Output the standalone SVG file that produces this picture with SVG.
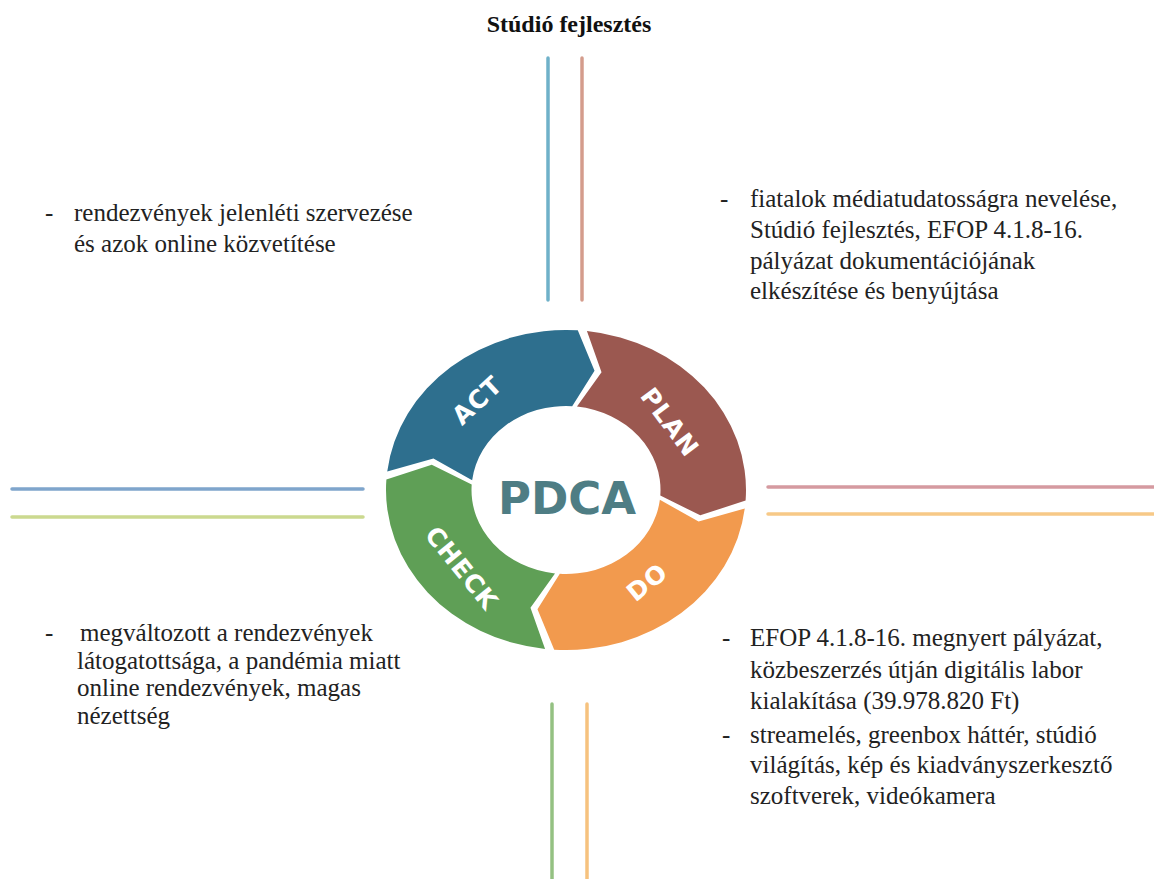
<svg xmlns="http://www.w3.org/2000/svg" width="1154" height="879" viewBox="0 0 1154 879">
<defs>
<style>
.t{font-family:"Liberation Serif","Times New Roman",serif;font-size:25px;fill:#222}
.ttl{font-family:"Liberation Serif","Times New Roman",serif;font-size:24px;font-weight:bold;fill:#111}
.lbl{font-family:"DejaVu Sans",Verdana,sans-serif;font-size:25px;font-weight:bold;fill:#fff;letter-spacing:1px}
.ln{stroke-width:3.5;fill:none;stroke-linecap:round}
</style>
<path id="seg" d="M -158.91,-18.60 A 160 160 0 0 1 10.47,-159.66 L 25.35,-119.34 L 5.50,-83.82 A 84 84 0 0 0 -83.43,-9.77 L -117.85,-31.58 Z"/>
</defs>
<rect width="1154" height="879" fill="#fff"/>
<text class="ttl" x="569" y="32" text-anchor="middle">Stúdió fejlesztés</text>
<g id="connectors">
<line class="ln" x1="548" y1="58" x2="548" y2="300" stroke="#6fb1c9"/>
<line class="ln" x1="582" y1="58" x2="582" y2="300" stroke="#d49c8c"/>
<line class="ln" x1="552" y1="704" x2="552" y2="879" stroke="#94c182"/>
<line class="ln" x1="587" y1="704" x2="587" y2="879" stroke="#f6c27e"/>
<line class="ln" x1="12" y1="489" x2="363" y2="489" stroke="#7fa5cc"/>
<line class="ln" x1="12" y1="517" x2="363" y2="517" stroke="#cbd98f"/>
<line class="ln" x1="768" y1="487" x2="1154" y2="487" stroke="#d59aa0"/>
<line class="ln" x1="768" y1="514" x2="1154" y2="514" stroke="#f7c987"/>
</g>
<g transform="translate(566,490) scale(1.125,1)">
<g id="act"><use href="#seg" fill="#2e6f8e"/></g>
<g id="plan"><use href="#seg" fill="#9b5850" transform="rotate(90)"/></g>
<g id="do"><use href="#seg" fill="#f29a4e" transform="rotate(180)"/></g>
<g id="check"><use href="#seg" fill="#5f9f56" transform="rotate(270)"/></g>
</g>
<text class="lbl" transform="translate(477,400) rotate(-43)" text-anchor="middle" dy="9">ACT</text>
<text class="lbl" transform="translate(670,422) rotate(53)" text-anchor="middle" dy="9">PLAN</text>
<text class="lbl" transform="translate(647,582) rotate(-39)" text-anchor="middle" dy="9">DO</text>
<text class="lbl" transform="translate(462,568) rotate(51)" text-anchor="middle" dy="9">CHECK</text>
<g id="pdca"><text x="567" y="514" text-anchor="middle" style="font-family:'DejaVu Sans',Verdana,sans-serif;font-size:45px;font-weight:bold;fill:#4e7d84">PDCA</text></g>
<g id="note-act">
<text class="t" x="45" y="221">-</text>
<text class="t" x="74" y="221">rendezvények jelenléti szervezése</text>
<text class="t" x="74" y="252">és azok online közvetítése</text>
</g>
<g id="note-plan">
<text class="t" x="720" y="207">-</text>
<text class="t" x="750" y="207">fiatalok médiatudatosságra nevelése,</text>
<text class="t" x="750" y="238">Stúdió fejlesztés, EFOP 4.1.8-16.</text>
<text class="t" x="750" y="269">pályázat dokumentációjának</text>
<text class="t" x="750" y="299">elkészítése és benyújtása</text>
</g>
<g id="note-check">
<text class="t" x="45" y="641">-</text>
<text class="t" x="80" y="641">megváltozott a rendezvények</text>
<text class="t" x="77" y="669">látogatottsága, a pandémia miatt</text>
<text class="t" x="77" y="696">online rendezvények, magas</text>
<text class="t" x="77" y="724">nézettség</text>
</g>
<g id="note-do">
<text class="t" x="722" y="646">-</text>
<text class="t" x="750" y="646">EFOP 4.1.8-16. megnyert pályázat,</text>
<text class="t" x="750" y="678">közbeszerzés útján digitális labor</text>
<text class="t" x="750" y="709">kialakítása (39.978.820 Ft)</text>
<text class="t" x="722" y="743">-</text>
<text class="t" x="750" y="743">streamelés, greenbox háttér, stúdió</text>
<text class="t" x="750" y="773">világítás, kép és kiadványszerkesztő</text>
<text class="t" x="750" y="804">szoftverek, videókamera</text>
</g>
</svg>
